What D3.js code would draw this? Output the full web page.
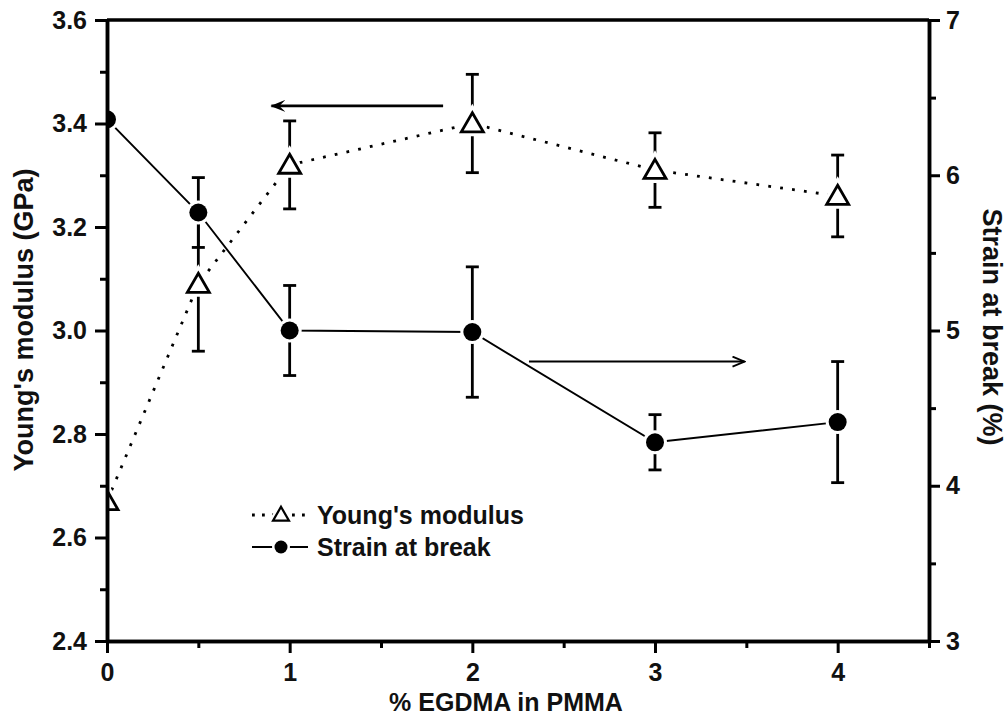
<!DOCTYPE html>
<html>
<head>
<meta charset="utf-8">
<script src="https://cdn.jsdelivr.net/npm/d3@7"></script>
<style>
  body { margin: 0; background: white; }
  text { font-family: "Liberation Sans", Arial, sans-serif; font-weight: bold; fill: #111; }
</style>
</head>
<body>
<div id="graph"></div>
<script>
// values
const pct = [0, 0.5, 1, 2, 3, 4];
const modulus = [2.67, 3.09, 3.32, 3.40, 3.31, 3.26];       // GPa, left axis
const modulusErr = [0, 0.13, 0.085, 0.095, 0.072, 0.079];
const strain = [6.36, 5.76, 5.00, 4.99, 4.28, 4.41];         // %, right axis
const strainErr = [0, 0.225, 0.29, 0.42, 0.178, 0.39];

const xTicks = [0, 1, 2, 3, 4];
const xMinor = [0.5, 1.5, 2.5, 3.5, 4.5];
const leftTicks = [2.4, 2.6, 2.8, 3.0, 3.2, 3.4, 3.6];
const leftMinor = [2.5, 2.7, 2.9, 3.1, 3.3, 3.5];
const rightTicks = [3, 4, 5, 6, 7];
const rightMinor = [3.5, 4.5, 5.5, 6.5];

// arrow annotations [x from, x to, y]
const arrowLeft = [1.84, 0.9, 3.434];   // on modulus scale
const arrowRight = [2.31, 3.49, 4.80];  // on strain scale

const width = 1006, height = 715;
const mLeft = 107, mRight = 929, mTop = 20, mBottom = 641;

const svg = d3.select('#graph').append('svg')
  .attr('width', width).attr('height', height)
  .style('background', 'white');

const x = d3.scaleLinear().domain([0, 4.5]).range([mLeft, mRight]);
const yL = d3.scaleLinear().domain([2.4, 3.6]).range([mBottom, mTop]);
const yR = d3.scaleLinear().domain([3, 7]).range([mBottom, mTop]);

const defs = svg.append('defs');
defs.append('clipPath').attr('id', 'plot')
  .append('rect').attr('x', mLeft).attr('y', mTop - 15)
  .attr('width', mRight - mLeft).attr('height', mBottom - mTop + 30);

const plot = svg.append('g').attr('clip-path', 'url(#plot)');

// young's modulus dotted line
const lineL = d3.line().x((d, i) => x(pct[i])).y(d => yL(d));
plot.append('path').datum(modulus)
  .attr('d', lineL).attr('fill', 'none')
  .attr('stroke', '#000').attr('stroke-width', 2.8)
  .attr('stroke-dasharray', '2.8 9.2');

// strain solid line
const lineR = d3.line().x((d, i) => x(pct[i])).y(d => yR(d));
plot.append('path').datum(strain)
  .attr('d', lineR).attr('fill', 'none')
  .attr('stroke', '#000').attr('stroke-width', 1.9);

// error bars
function errBars(vals, errs, scale) {
  const g = plot.append('g').attr('stroke', '#000').attr('stroke-width', 2.8);
  vals.forEach((v, i) => {
    if (!errs[i]) return;
    const cx = x(pct[i]), y1 = scale(v - errs[i]), y2 = scale(v + errs[i]);
    g.append('line').attr('x1', cx).attr('x2', cx).attr('y1', y1).attr('y2', y2);
    g.append('line').attr('x1', cx - 6.5).attr('x2', cx + 6.5).attr('y1', y1).attr('y2', y1);
    g.append('line').attr('x1', cx - 6.5).attr('x2', cx + 6.5).attr('y1', y2).attr('y2', y2);
  });
}
errBars(modulus, modulusErr, yL);
errBars(strain, strainErr, yR);

const tri = d3.symbol().type(d3.symbolTriangle).size(210);

// white halos so lines stop short of the markers
plot.selectAll('.halo-t').data(modulus).enter().append('path')
  .attr('d', tri).attr('transform', (d, i) => `translate(${x(pct[i])},${yL(d) + 2})`)
  .attr('fill', 'white').attr('stroke', 'white').attr('stroke-width', 9);
plot.selectAll('.halo-c').data(strain).enter().append('circle')
  .attr('cx', (d, i) => x(pct[i])).attr('cy', d => yR(d))
  .attr('r', 12).attr('fill', 'white');

plot.selectAll('.tri').data(modulus).enter().append('path')
  .attr('d', tri).attr('transform', (d, i) => `translate(${x(pct[i])},${yL(d) + 2})`)
  .attr('fill', 'white').attr('stroke', '#000').attr('stroke-width', 2.8);
plot.selectAll('.dot').data(strain).enter().append('circle')
  .attr('cx', (d, i) => x(pct[i])).attr('cy', d => yR(d))
  .attr('r', 9).attr('fill', '#000');

// axes
const tickFont = g => g.selectAll('text').style('font-size', '25px')
  .style('font-family', '"Liberation Sans", Arial, sans-serif').style('font-weight', 'bold').attr('fill', '#111');
const axisStyle = g => {
  g.select('.domain').attr('stroke', '#000').attr('stroke-width', 3.5);
  g.selectAll('.tick line').attr('stroke', '#000').attr('stroke-width', 3);
};

svg.append('g').attr('transform', `translate(0,${mBottom})`)
  .call(d3.axisBottom(x).tickValues(xTicks).tickSize(12).tickSizeOuter(0).tickPadding(10).tickFormat(d3.format('d')))
  .call(axisStyle).call(tickFont);
svg.append('g').attr('transform', `translate(0,${mBottom})`)
  .call(d3.axisBottom(x).tickValues(xMinor).tickSize(7).tickSizeOuter(0).tickFormat(''))
  .call(axisStyle);

svg.append('g').attr('transform', `translate(${mLeft},0)`)
  .call(d3.axisLeft(yL).tickValues(leftTicks).tickSize(12).tickSizeOuter(0).tickPadding(8).tickFormat(d3.format('.1f')))
  .call(axisStyle).call(tickFont);
svg.append('g').attr('transform', `translate(${mLeft},0)`)
  .call(d3.axisLeft(yL).tickValues(leftMinor).tickSize(7).tickSizeOuter(0).tickFormat(''))
  .call(axisStyle);

svg.append('g').attr('transform', `translate(${mRight},0)`)
  .call(d3.axisRight(yR).tickValues(rightTicks).tickSize(11).tickSizeOuter(0).tickPadding(6).tickFormat(d3.format('d')))
  .call(axisStyle).call(tickFont);
svg.append('g').attr('transform', `translate(${mRight},0)`)
  .call(d3.axisRight(yR).tickValues(rightMinor).tickSize(7).tickSizeOuter(0).tickFormat(''))
  .call(axisStyle);

// top frame
svg.append('line').attr('x1', mLeft).attr('x2', mRight).attr('y1', mTop).attr('y2', mTop)
  .attr('stroke', '#000').attr('stroke-width', 3.5);

// axis titles
svg.append('text')
  .attr('transform', `translate(${(mLeft + mRight) / 2 - 12}, 711)`)
  .style('text-anchor', 'middle').style('font-size', '25px')
  .text('% EGDMA in PMMA');

svg.append('text')
  .attr('transform', `translate(33, 320) rotate(-90)`)
  .style('text-anchor', 'middle').style('font-size', '27px')
  .text("Young's modulus (GPa)");

svg.append('text')
  .attr('transform', `translate(983, 327) rotate(90)`)
  .style('text-anchor', 'middle').style('font-size', '27px')
  .text('Strain at break (%)');

// arrows
defs.append('marker').attr('id', 'headL')
  .attr('viewBox', '0 0 15 12').attr('refX', 14).attr('refY', 6)
  .attr('markerWidth', 15).attr('markerHeight', 12).attr('markerUnits', 'userSpaceOnUse')
  .attr('orient', 'auto')
  .append('path').attr('d', 'M15,6 L0,0 L6,6 L0,12 Z').attr('fill', '#000');
defs.append('marker').attr('id', 'headR')
  .attr('viewBox', '0 0 14 12').attr('refX', 13).attr('refY', 6)
  .attr('markerWidth', 14).attr('markerHeight', 12).attr('markerUnits', 'userSpaceOnUse')
  .attr('orient', 'auto')
  .append('path').attr('d', 'M1,1 L13,6 L1,11').attr('fill', 'none').attr('stroke', '#000').attr('stroke-width', 1.8);

svg.append('line')
  .attr('x1', x(arrowLeft[0])).attr('x2', x(arrowLeft[1]))
  .attr('y1', yL(arrowLeft[2])).attr('y2', yL(arrowLeft[2]))
  .attr('stroke', '#000').attr('stroke-width', 2.8)
  .attr('marker-end', 'url(#headL)');
svg.append('line')
  .attr('x1', x(arrowRight[0])).attr('x2', x(arrowRight[1]))
  .attr('y1', yR(arrowRight[2])).attr('y2', yR(arrowRight[2]))
  .attr('stroke', '#000').attr('stroke-width', 1.9)
  .attr('marker-end', 'url(#headR)');

// legend
const legend = svg.append('g').attr('transform', 'translate(252,0)');
const rows = [
  { label: "Young's modulus", y: 515, dash: '2.8 7.2', kind: 'tri' },
  { label: 'Strain at break', y: 547, dash: null, kind: 'dot' }
];
rows.forEach(r => {
  legend.append('line').attr('x1', 0).attr('x2', 56).attr('y1', r.y).attr('y2', r.y)
    .attr('stroke', '#000').attr('stroke-width', r.dash ? 2.8 : 2.2)
    .attr('stroke-dasharray', r.dash);
  if (r.kind === 'tri') {
    legend.append('path').attr('d', d3.symbol().type(d3.symbolTriangle).size(110))
      .attr('transform', `translate(29,${r.y + 1})`)
      .attr('fill', 'white').attr('stroke', 'white').attr('stroke-width', 7);
    legend.append('path').attr('d', d3.symbol().type(d3.symbolTriangle).size(110))
      .attr('transform', `translate(29,${r.y + 1})`)
      .attr('fill', 'white').attr('stroke', '#000').attr('stroke-width', 2.2);
  } else {
    legend.append('circle').attr('cx', 29).attr('cy', r.y).attr('r', 9).attr('fill', 'white');
    legend.append('circle').attr('cx', 29).attr('cy', r.y).attr('r', 6.5).attr('fill', '#000');
  }
  legend.append('text').attr('x', 65).attr('y', r.y + 9)
    .style('font-size', '25px').text(r.label);
});
</script>
</body>
</html>
